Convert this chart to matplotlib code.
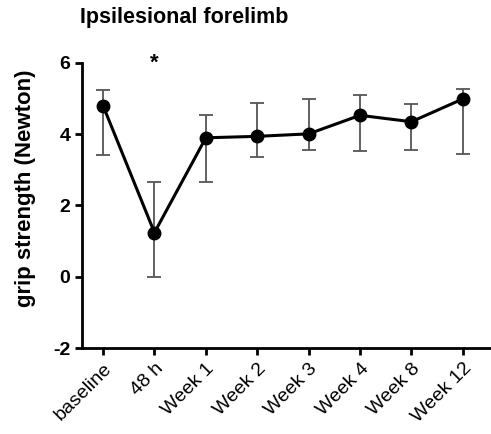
import matplotlib
matplotlib.use("Agg")
import matplotlib.pyplot as plt
import numpy as np

plt.rcParams['font.family'] = ['Liberation Sans', 'DejaVu Sans']
plt.rcParams['axes.unicode_minus'] = False

# grip strength over time, ipsilesional side
timepoints = ['baseline', '48 h', 'Week 1', 'Week 2', 'Week 3', 'Week 4', 'Week 8', 'Week 12']
grip = [4.80, 1.24, 3.90, 3.94, 4.01, 4.53, 4.35, 4.99]
grip_hi = [5.25, 2.65, 4.54, 4.88, 5.00, 5.10, 4.85, 5.26]
grip_lo = [3.43, 0.00, 2.66, 3.35, 3.56, 3.53, 3.55, 3.45]

x = np.arange(len(timepoints))
grip = np.array(grip)
yerr = [grip - np.array(grip_lo), np.array(grip_hi) - grip]

fig = plt.figure(figsize=(4.91, 4.34), dpi=100)
ax = fig.add_axes([0.167, 0.198, 0.831, 0.657])

ax.errorbar(x, grip, yerr=yerr, fmt='none', ecolor='#555555', elinewidth=1.3,
            capsize=5, capthick=1.3, zorder=2)
ax.plot(x, grip, '-o', color='black', lw=2.2, ms=9, zorder=3)

# significance marker at 48 h
ax.text(1, 5.98, '*', ha='center', va='center', fontsize=16, fontweight='bold')

ax.set_xlim(-0.41, 7.53)
ax.set_ylim(-2, 6)
ax.set_yticks([-2, 0, 2, 4, 6])
ax.set_xticks(x)
ax.set_xticklabels(timepoints, rotation=45, ha='right', rotation_mode='anchor',
                   fontsize=14)
for lbl in ax.get_yticklabels():
    lbl.set_fontweight('bold')
    lbl.set_fontsize(14)

for s in ['top', 'right']:
    ax.spines[s].set_visible(False)
for s in ['left', 'bottom']:
    ax.spines[s].set_linewidth(2)
ax.tick_params(axis='both', width=2, length=5)

ax.set_ylabel('grip strength (Newton)', fontsize=16, fontweight='bold')
ax.yaxis.set_label_coords(-0.112, 0.56)
fig.text(0.163, 0.96, 'Ipsilesional forelimb', fontsize=15.5, fontweight='bold',
         va='center', ha='left')

fig.savefig('out.png', dpi=100)
